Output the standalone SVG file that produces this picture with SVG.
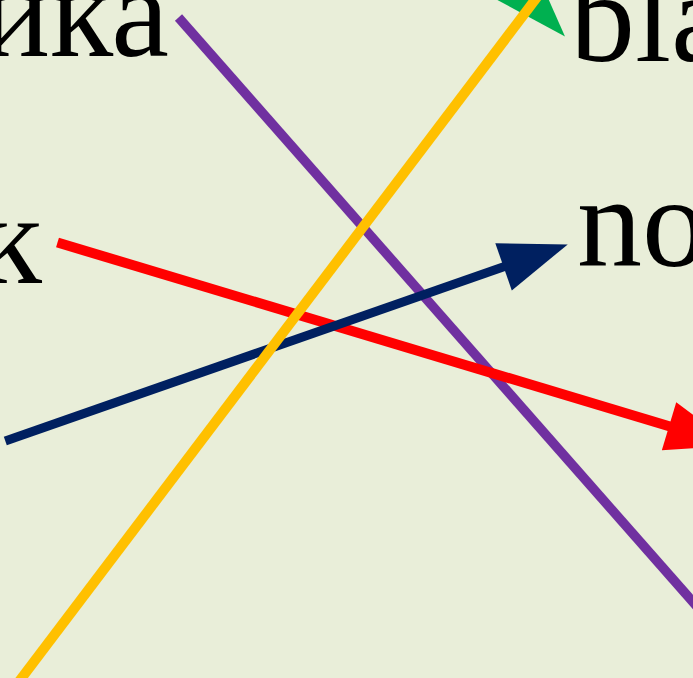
<svg xmlns="http://www.w3.org/2000/svg" width="693" height="678" viewBox="0 0 693 678">
  <style>
    .lbl { font-family: "Liberation Serif", "Times New Roman", serif; font-size: 130px; fill: #000000; }
    .ln { fill: none; stroke-linecap: butt; }
  </style>
  <defs>
    <marker id="arrRed" markerUnits="userSpaceOnUse" markerWidth="70" markerHeight="52" refX="1" refY="25" orient="auto" overflow="visible">
      <path d="M0,0 L68,25 L0,50 Z" fill="#FF0000"/>
    </marker>
    <marker id="arrNavy" markerUnits="userSpaceOnUse" markerWidth="70" markerHeight="52" refX="1" refY="25" orient="auto" overflow="visible">
      <path d="M0,0 L68,25 L0,50 Z" fill="#002060"/>
    </marker>
  </defs>
  <rect x="0" y="0" width="693" height="678" fill="#E9EED9"/>

  <g id="node-ika"><text class="lbl" x="169" y="56" text-anchor="end">ика</text></g>
  <g id="node-k"><text class="lbl" x="42" y="283" text-anchor="end">к</text></g>
  <g id="node-bla"><text class="lbl" x="570" y="61">bla</text></g>
  <g id="node-no"><text class="lbl" x="577" y="266">no</text></g>

  <g id="connectors">
    <line class="ln" x1="178.5" y1="17.5" x2="730" y2="644" stroke="#7030A0" stroke-width="9.5"/>
    <line class="ln" x1="57.5" y1="242.5" x2="670" y2="426.5" stroke="#FF0000" stroke-width="10" marker-end="url(#arrRed)"/>
    <line class="ln" x1="5.3" y1="441" x2="504.5" y2="266.5" stroke="#002060" stroke-width="9" marker-end="url(#arrNavy)"/>
    <polygon points="490,-4 565,36.5 540,-20" fill="#00B050"/>
    <line class="ln" x1="5" y1="700" x2="550" y2="-20" stroke="#FFC000" stroke-width="10"/>
  </g>
</svg>
